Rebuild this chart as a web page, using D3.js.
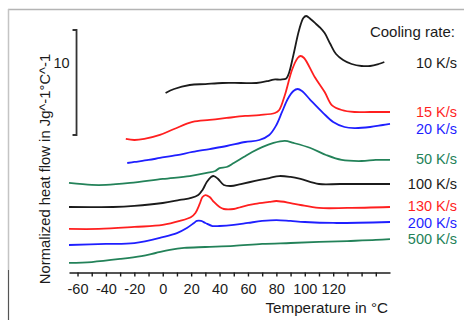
<!DOCTYPE html>
<html>
<head>
<meta charset="utf-8">
<script src="https://cdn.jsdelivr.net/npm/d3@7"></script>
<style>
  body { margin: 0; background: #fff; }
  svg { display: block; font-family: "Liberation Sans", Arial, sans-serif; }
</style>
</head>
<body>
<svg id="chart" width="464" height="320"></svg>
<script>
// temperature (°C), normalized heat flow (J g^-1 °C^-1, curves shifted vertically)
var rate10 = [[2,17.05],[8,17.43],[19,17.81],[30,17.90],[42,18.00],[55,18.00],[66,18.00],[74,18.19],[78,18.33],[83,18.33],[87,18.43],[89,19.0],[92,20.67],[96,23.05],[99,24.19],[101,24.38],[104,24.10],[108,23.62],[111,23.24],[114,22.76],[118,21.71],[122,20.76],[127,20.19],[133,19.81],[140,19.62],[146,19.62],[152,19.81],[156,20.00]]
var rate15 = [[-26,12.67],[-20,12.57],[-13,12.67],[-2,13.05],[8,13.62],[21,14.29],[33,14.48],[45,14.67],[58,14.86],[68,14.95],[79,15.14],[82,15.43],[86,16.86],[91,19.24],[95,20.38],[97,20.57],[99.5,20.38],[107,18.57],[114,17.14],[119,15.90],[126,15.43],[135,15.24],[146,15.24],[160,15.24]]
var rate20 = [[-25,10.38],[-20,10.48],[-10,10.67],[-2,10.86],[10,11.14],[21,11.43],[33,11.71],[45,12.00],[58,12.38],[68,12.57],[75,13.05],[80,14.00],[84,15.24],[88,16.48],[92,17.24],[95,17.43],[98,17.24],[104,16.38],[113,15.14],[120,14.29],[128,13.81],[135,13.71],[146,13.81],[155,14.00],[160,14.10]]
var rate50 = [[-66,8.48],[-50,8.29],[-40,8.29],[-23,8.48],[0,8.86],[19,9.14],[31,9.43],[37,9.62],[40,9.90],[45,10.00],[50,10.38],[57,10.95],[63,11.43],[70,11.90],[78,12.29],[86,12.48],[92,12.29],[104,11.81],[115,11.14],[126,10.67],[140,10.57],[150,10.67],[160,10.67]]
var rate100 = [[-66,6.19],[-35,6.19],[-20,6.29],[0,6.57],[12,6.86],[20,7.05],[25,7.33],[28,7.81],[31,8.57],[34,9.05],[36,9.14],[39,8.86],[43,8.29],[48,8.19],[55,8.38],[65,8.67],[75,8.95],[82,9.14],[90,9.05],[97,8.86],[110,8.38],[125,8.38],[160,8.38]]
var rate130 = [[-66,4.10],[-45,4.10],[-20,4.29],[0,4.48],[12,4.86],[20,5.24],[23,5.62],[26,6.48],[28,7.14],[30,7.33],[33,7.14],[36,6.67],[40,6.19],[43,6.00],[50,6.00],[55,6.19],[65,6.48],[75,6.67],[80,6.76],[90,6.57],[97,6.38],[110,6.10],[130,6.10],[160,6.19]]
var rate200 = [[-66,2.57],[-40,2.67],[-20,2.76],[0,3.33],[10,3.71],[17,4.19],[22,4.67],[24,4.86],[27,4.86],[30,4.67],[35,4.38],[40,4.38],[50,4.48],[60,4.67],[70,4.86],[80,4.95],[90,4.86],[100,4.76],[120,4.67],[160,4.76]]
var rate500 = [[-66,0.86],[-50,0.95],[-30,1.24],[-15,1.52],[-5,1.81],[5,2.10],[15,2.29],[30,2.38],[50,2.48],[70,2.67],[90,2.76],[110,2.86],[130,2.95],[150,3.05],[160,3.14]]

var seriesNames = ["10 K/s", "15 K/s", "20 K/s", "50 K/s", "100 K/s", "130 K/s", "200 K/s", "500 K/s"]
var seriesData = [rate10, rate15, rate20, rate50, rate100, rate130, rate200, rate500]
// label height in the same heat-flow units
var labelLevels = [19.9, 15.2, 13.6, 10.8, 8.4, 6.3, 4.7, 3.1]
var seriesColors = ["#1b1b1b", "#ff1f1f", "#1f1fff", "#238259", "#1b1b1b", "#ff1f1f", "#1f1fff", "#238259"]

var tickValues = d3.range(-60, 151, 10)
var tickLabels = [-60, -40, -20, 0, 20, 40, 60, 80, 100, 120]
var scaleBar = [13.05, 23.05]   // 10 J g^-1 °C^-1

var svg = d3.select("#chart")

var x = d3.scaleLinear().domain([-66, 160]).range([69, 390])
var y = d3.scaleLinear().domain([0, 10]).range([272, 167])

// frame
svg.append("line").attr("x1", 8).attr("x2", 464).attr("y1", 9.5).attr("y2", 9.5)
  .attr("stroke", "#b4b4b4").attr("stroke-width", 1.5)
svg.append("line").attr("x1", 8.5).attr("x2", 8.5).attr("y1", 9).attr("y2", 270)
  .attr("stroke", "#c4c4c4").attr("stroke-width", 1.5)
svg.append("line").attr("x1", 8.5).attr("x2", 8.5).attr("y1", 270).attr("y2", 320)
  .attr("stroke", "#555").attr("stroke-width", 1.2)

// x axis
var xAxis = svg.append("g")
  .attr("transform", "translate(0,272.5)")
  .call(d3.axisBottom(x)
    .tickValues(tickValues)
    .tickSize(4)
    .tickSizeOuter(0)
    .tickPadding(7)
    .tickFormat(function (d) { return tickLabels.indexOf(d) >= 0 ? d : "" }))

xAxis.select(".domain").attr("stroke", "#1b1b1b").attr("stroke-width", 1.6)
xAxis.selectAll(".tick line").attr("stroke", "#1b1b1b").attr("stroke-width", 1.4)
xAxis.selectAll(".tick text").attr("fill", "#1b1b1b").style("font-size", "14.5px")
  .style("font-family", "'Liberation Sans', Arial, sans-serif")

svg.append("text")
  .attr("x", 388).attr("y", 313)
  .attr("text-anchor", "end")
  .attr("fill", "#1b1b1b").style("font-size", "15.2px")
  .text("Temperature in °C")

svg.append("text")
  .attr("transform", "translate(50,169) rotate(-90)")
  .attr("text-anchor", "middle")
  .attr("fill", "#1b1b1b").style("font-size", "14.8px")
  .text("Normalized heat flow in Jg^-1°C^-1")

// scale bar
var barX = x(-60.7)
svg.append("path")
  .attr("d", "M" + (barX - 4) + "," + y(scaleBar[1]) + "H" + barX + "V" + y(scaleBar[0]) + "H" + (barX - 4))
  .attr("fill", "none").attr("stroke", "#333").attr("stroke-width", 1.8)
svg.append("text")
  .attr("x", barX - 7).attr("y", y(19.45))
  .attr("text-anchor", "end")
  .attr("fill", "#1b1b1b").style("font-size", "14.5px")
  .text("10")

// curves
var line = d3.line()
  .x(function (d) { return x(d[0]) })
  .y(function (d) { return y(d[1]) })
  .curve(d3.curveCatmullRom.alpha(0.5))

svg.selectAll(".curve")
  .data(seriesData)
  .enter().append("path")
  .attr("class", "curve")
  .attr("d", line)
  .attr("fill", "none")
  .attr("stroke", function (d, i) { return seriesColors[i] })
  .attr("stroke-width", 1.8)
  .attr("stroke-linejoin", "round")

// legend labels
svg.append("text")
  .attr("x", 455).attr("y", 37)
  .attr("text-anchor", "end")
  .attr("fill", "#1b1b1b").style("font-size", "15px")
  .text("Cooling rate:")

svg.selectAll(".rate-label")
  .data(seriesNames)
  .enter().append("text")
  .attr("class", "rate-label")
  .attr("x", 457)
  .attr("y", function (d, i) { return y(labelLevels[i]) + 5 })
  .attr("text-anchor", "end")
  .attr("fill", function (d, i) { return seriesColors[i] })
  .style("font-size", "14.5px")
  .text(function (d) { return d })
</script>
</body>
</html>
